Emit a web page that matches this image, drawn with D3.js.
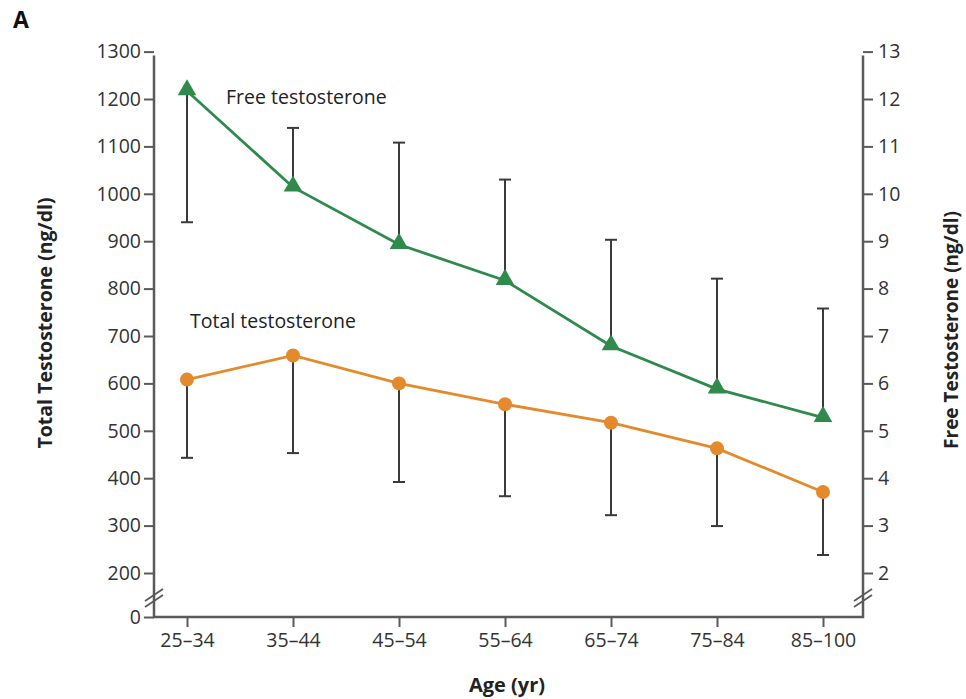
<!DOCTYPE html>
<html><head><meta charset="utf-8">
<script src="https://cdn.jsdelivr.net/npm/d3@7/dist/d3.min.js"></script>
<style>
body{margin:0;background:#fff;}
text{font-family:"Open Sans",Lato,sans-serif;}
</style></head>
<body><svg id="c" width="966" height="699"></svg>
<script>
const ageGroups = ["25\u201334","35\u201344","45\u201354","55\u201364","65\u201374","75\u201384","85\u2013100"];
const totalMean = [608, 659, 600, 556, 517, 463, 371];
const totalLow  = [443, 453, 392, 362, 322, 299, 238];
const freeMean  = [12.17, 10.14, 8.93, 8.17, 6.79, 5.88, 5.28];
const freeErr   = [9.40, 11.39, 11.08, 10.30, 9.03, 8.21, 7.58];
const leftTicks = [200,300,400,500,600,700,800,900,1000,1100,1200,1300];
const rightTicks = [2,3,4,5,6,7,8,9,10,11,12,13];

const svg = d3.select("#c");
const green = "#2f8a4c", orange = "#e5892d", axisCol = "#5a5a5a", errCol = "#3a3a3a";
const x = d3.scalePoint().domain(ageGroups).range([187, 823]);
const yL = d3.scaleLinear().domain([200,1200]).range([573, 99]);
const yR = d3.scaleLinear().domain([2,12]).range([573, 99]);
const yZero = d3.scaleLinear().domain([0,1]).range([617, 600]);
const xLeft = 154, xRight = 863, yBase = 617, yTop = yL(1300)+4;
const fontF = "'Open Sans', Lato, sans-serif";

function styleAxis(g){
  g.select(".domain").remove();
  g.selectAll(".tick line").attr("stroke", axisCol).attr("stroke-width", 2);
  g.selectAll(".tick text").attr("fill","#333").style("font-size","19.5px").style("font-family",fontF);
}
svg.append("g").attr("transform",`translate(${xLeft},0)`)
  .call(d3.axisLeft(yL).tickValues(leftTicks).tickSize(10).tickPadding(3).tickFormat(d3.format("d")))
  .call(styleAxis);
svg.append("g").attr("transform",`translate(${xLeft},0)`)
  .call(d3.axisLeft(yZero).tickValues([0]).tickSize(10).tickPadding(3).tickFormat(d3.format("d")))
  .call(styleAxis);
svg.append("g").attr("transform",`translate(${xRight},0)`)
  .call(d3.axisRight(yR).tickValues(rightTicks).tickSize(10).tickPadding(5).tickFormat(d3.format("d")))
  .call(styleAxis);
svg.append("g").attr("transform",`translate(0,${yBase})`)
  .call(d3.axisBottom(x).tickSize(10).tickPadding(6))
  .call(styleAxis);
svg.append("path").attr("d",`M${xLeft},${yTop}V${yBase}H${xRight}V${yTop}`)
  .attr("fill","none").attr("stroke",axisCol).attr("stroke-width",2.5);
[xLeft, xRight].forEach(bx=>{
  [-3,3].forEach(o=>{
    svg.append("line").attr("x1",bx-9).attr("y1",598+o+6).attr("x2",bx+9).attr("y2",598+o-6)
      .attr("stroke",axisCol).attr("stroke-width",1.8);
  });
});
const cap = 6;
ageGroups.forEach((g,i)=>{
  const cx = x(g);
  svg.append("line").attr("x1",cx).attr("x2",cx).attr("y1",yL(totalMean[i])).attr("y2",yL(totalLow[i])).attr("stroke",errCol).attr("stroke-width",2);
  svg.append("line").attr("x1",cx-cap).attr("x2",cx+cap).attr("y1",yL(totalLow[i])).attr("y2",yL(totalLow[i])).attr("stroke",errCol).attr("stroke-width",2);
  svg.append("line").attr("x1",cx).attr("x2",cx).attr("y1",yR(freeMean[i])).attr("y2",yR(freeErr[i])).attr("stroke",errCol).attr("stroke-width",2);
  svg.append("line").attr("x1",cx-cap).attr("x2",cx+cap).attr("y1",yR(freeErr[i])).attr("y2",yR(freeErr[i])).attr("stroke",errCol).attr("stroke-width",2);
});
const lineT = d3.line().x((d,i)=>x(ageGroups[i])).y(d=>yL(d));
const lineF = d3.line().x((d,i)=>x(ageGroups[i])).y(d=>yR(d));
svg.append("path").datum(totalMean).attr("d",lineT).attr("fill","none").attr("stroke",orange).attr("stroke-width",2.8);
svg.append("path").datum(freeMean).attr("d",lineF).attr("fill","none").attr("stroke",green).attr("stroke-width",2.8);
svg.selectAll(".dotT").data(totalMean).enter().append("circle")
  .attr("cx",(d,i)=>x(ageGroups[i])).attr("cy",d=>yL(d)).attr("r",7).attr("fill",orange);
const tri = d3.symbol().type(d3.symbolTriangle).size(150);
svg.selectAll(".triF").data(freeMean).enter().append("path")
  .attr("d",tri).attr("transform",(d,i)=>`translate(${x(ageGroups[i])},${yR(d)-1})`).attr("fill",green);
svg.append("text").attr("x",226).attr("y",104).text("Free testosterone").style("font-size","19.5px").attr("fill","#222");
svg.append("text").attr("x",190).attr("y",328).text("Total testosterone").style("font-size","19.5px").attr("fill","#222");
svg.append("text").attr("transform","translate(52,323) rotate(-90)").attr("text-anchor","middle")
  .text("Total Testosterone (ng/dl)").style("font-size","19.5px").style("font-weight","bold").attr("fill","#222");
svg.append("text").attr("transform","translate(958,330) rotate(-90)").attr("text-anchor","middle")
  .text("Free Testosterone (ng/dl)").style("font-size","19px").style("font-weight","bold").attr("fill","#222");
svg.append("text").attr("x",507).attr("y",692).attr("text-anchor","middle")
  .text("Age (yr)").style("font-size","20px").style("font-weight","bold").attr("fill","#222");
svg.append("text").attr("x",13).attr("y",28).text("A").style("font-size","23px").style("font-weight","bold").attr("fill","#111");
</script></body></html>
